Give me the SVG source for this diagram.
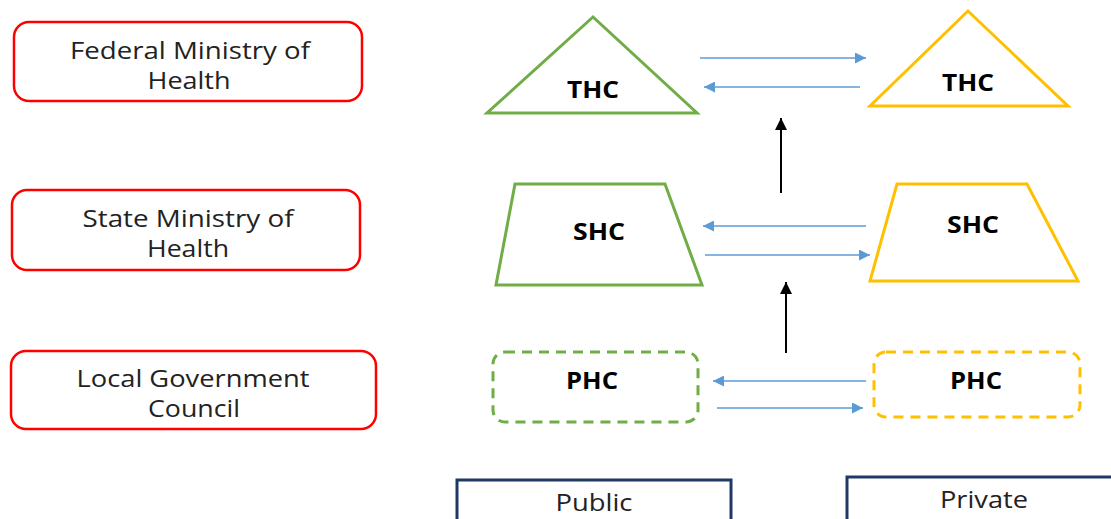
<svg xmlns="http://www.w3.org/2000/svg" width="1111" height="519" viewBox="0 0 1111 519">
<style>
.lvl{fill:#fff;stroke:#FF0000;stroke-width:2.5}
.lt{font-family:"Open Sans",sans-serif;font-size:23px;fill:#222;text-anchor:middle}
.g{fill:#fff;stroke:#70AD47;stroke-width:3}
.y{fill:#fff;stroke:#FFC000;stroke-width:3}
.d{stroke-dasharray:10 7}
.bt{font-family:"Open Sans",sans-serif;font-size:23px;font-weight:bold;fill:#000;text-anchor:middle}
.bl{stroke:#5B9BD5;stroke-width:1.5;fill:none;marker-end:url(#ab)}
.bk{stroke:#000;stroke-width:2;fill:none;marker-end:url(#ak)}
.leg{fill:#fff;stroke:#1F3864;stroke-width:3}
</style>
<defs>
<marker id="ab" viewBox="0 0 10 10" refX="10" refY="5" markerWidth="15" markerHeight="11" markerUnits="userSpaceOnUse" orient="auto"><path d="M0,0 L10,5 L0,10 z" fill="#5B9BD5"/></marker>
<marker id="ak" viewBox="0 0 10 10" refX="10" refY="5" markerWidth="14" markerHeight="12" markerUnits="userSpaceOnUse" orient="auto"><path d="M0,0 L10,5 L0,10 z" fill="#000"/></marker>
</defs>
<g id="federal"><rect class="lvl" x="14" y="22" width="348" height="79" rx="15"/><text class="lt" x="190" y="59" textLength="240" lengthAdjust="spacingAndGlyphs">Federal Ministry of</text><text class="lt" x="189" y="89" textLength="83" lengthAdjust="spacingAndGlyphs">Health</text></g>
<g id="state"><rect class="lvl" x="12" y="190" width="348" height="80" rx="15"/><text class="lt" x="188" y="227" textLength="211" lengthAdjust="spacingAndGlyphs">State Ministry of</text><text class="lt" x="188" y="257" textLength="82" lengthAdjust="spacingAndGlyphs">Health</text></g>
<g id="local"><rect class="lvl" x="11" y="351" width="365" height="78" rx="15"/><text class="lt" x="193" y="387" textLength="233" lengthAdjust="spacingAndGlyphs">Local Government</text><text class="lt" x="194" y="417" textLength="92" lengthAdjust="spacingAndGlyphs">Council</text></g>
<g id="thc-public"><polygon class="g" points="593,17 487,113 697,113"/><text class="bt" x="593" y="98" textLength="52" lengthAdjust="spacingAndGlyphs">THC</text></g>
<g id="thc-private"><polygon class="y" points="968,11 870,106 1068,106"/><text class="bt" x="968" y="91" textLength="52" lengthAdjust="spacingAndGlyphs">THC</text></g>
<g id="shc-public"><polygon class="g" points="515,184 665,184 702,285 496,285"/><text class="bt" x="599" y="240" textLength="52" lengthAdjust="spacingAndGlyphs">SHC</text></g>
<g id="shc-private"><polygon class="y" points="897,184 1027,184 1078,281 870,281"/><text class="bt" x="973" y="233" textLength="52" lengthAdjust="spacingAndGlyphs">SHC</text></g>
<g id="phc-public"><rect class="g d" x="493" y="352" width="205" height="70" rx="12"/><text class="bt" x="592" y="389" textLength="52" lengthAdjust="spacingAndGlyphs">PHC</text></g>
<g id="phc-private"><rect class="y d" x="874" y="352" width="206" height="65" rx="12"/><text class="bt" x="976" y="389" textLength="52" lengthAdjust="spacingAndGlyphs">PHC</text></g>
<g id="public"><rect class="leg" x="457" y="480" width="274" height="45"/><text class="lt" x="594" y="511" textLength="77" lengthAdjust="spacingAndGlyphs">Public</text></g>
<g id="private"><rect class="leg" x="847" y="477" width="270" height="48"/><text class="lt" x="984" y="508" textLength="88" lengthAdjust="spacingAndGlyphs">Private</text></g>
<g id="connectors">
<line class="bl" x1="700" y1="58" x2="866" y2="58"/>
<line class="bl" x1="860" y1="87" x2="704" y2="87"/>
<line class="bl" x1="866" y1="226" x2="703" y2="226"/>
<line class="bl" x1="705" y1="255" x2="870" y2="255"/>
<line class="bl" x1="866" y1="381" x2="713" y2="381"/>
<line class="bl" x1="717" y1="408" x2="863" y2="408"/>
<line class="bk" x1="781" y1="193" x2="781" y2="118"/>
<line class="bk" x1="786" y1="353" x2="786" y2="282"/>
</g>
</svg>
